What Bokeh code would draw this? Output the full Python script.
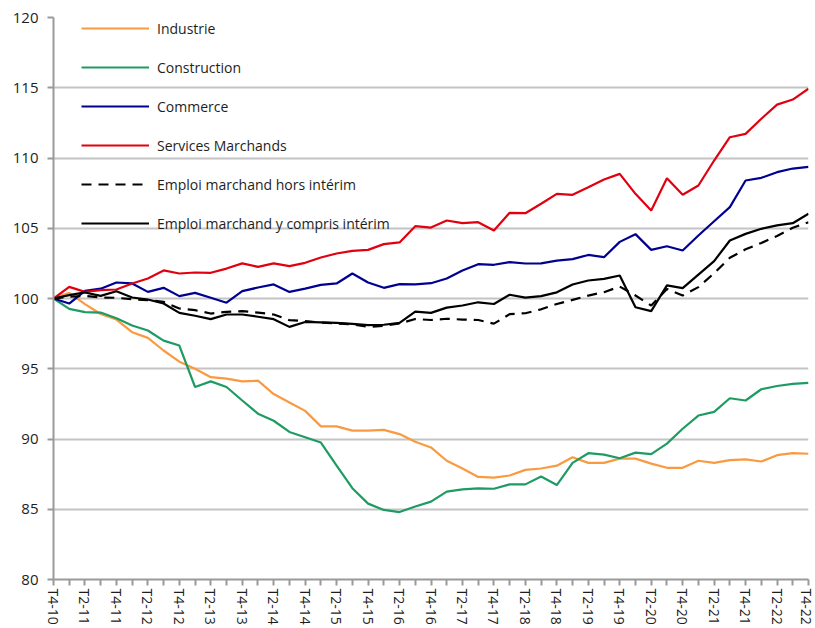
from bokeh.plotting import figure
from bokeh.models import FixedTicker, Legend, LegendItem
from bokeh.embed import file_html
from bokeh.resources import INLINE

# Quarters T4-10 .. T4-22
quarters = []
for i in range(49):
    q = (i + 3) % 4 + 1
    yr = 10 + (i + 3) // 4
    quarters.append(f"T{q}-{yr}")
tick_labels = [lab if k % 2 == 0 else "" for k, lab in enumerate(quarters)]

industrie = [100, 100.4, 99.6, 98.9, 98.5, 97.6, 97.2, 96.3, 95.5, 95.0,
             94.4, 94.3, 94.1, 94.15, 93.2, 92.6, 92.0, 90.9, 90.9, 90.6,
             90.6, 90.65, 90.35, 89.8, 89.4, 88.45, 87.9, 87.3, 87.25, 87.4,
             87.8, 87.9, 88.1, 88.7, 88.3, 88.3, 88.6, 88.6, 88.25, 87.95,
             87.95, 88.45, 88.3, 88.5, 88.55, 88.4, 88.85, 89.0, 88.95]
construction = [100, 99.26, 99.03, 99.0, 98.6, 98.08, 97.72, 97.0, 96.65, 93.7,
                94.1, 93.7, 92.74, 91.8, 91.3, 90.5, 90.13, 89.75, 88.1, 86.5,
                85.4, 84.95, 84.8, 85.2, 85.54, 86.25, 86.41, 86.49, 86.46, 86.77,
                86.77, 87.33, 86.72, 88.3, 88.99, 88.89, 88.63, 89.03, 88.92, 89.67,
                90.73, 91.67, 91.93, 92.9, 92.74, 93.54, 93.77, 93.92, 93.99]
commerce = [100, 99.64, 100.55, 100.7, 101.14, 101.07, 100.47, 100.76, 100.17, 100.4,
            100.05, 99.7, 100.52, 100.78, 101.0, 100.47, 100.7, 100.97, 101.07, 101.78,
            101.14, 100.76, 101.02, 101.0, 101.09, 101.42, 102.0, 102.44, 102.4, 102.59,
            102.49, 102.5, 102.7, 102.8, 103.1, 102.94, 104.03, 104.58, 103.46, 103.72,
            103.42, 104.48, 105.5, 106.5, 108.4, 108.59, 108.99, 109.25, 109.37]
services = [100, 100.83, 100.47, 100.6, 100.64, 101.07, 101.42, 102.0, 101.78, 101.85,
            101.83, 102.13, 102.5, 102.25, 102.5, 102.3, 102.54, 102.92, 103.2, 103.39,
            103.46, 103.87, 103.99, 105.15, 105.05, 105.55, 105.36, 105.43, 104.84, 106.1,
            106.07, 106.74, 107.45, 107.38, 107.92, 108.47, 108.87, 107.45, 106.26, 108.56,
            107.38, 108.04, 109.82, 111.48, 111.72, 112.79, 113.8, 114.16, 114.93]
emploi_hors = [100, 100.12, 100.19, 100.07, 100.05, 99.95, 99.88, 99.76, 99.29, 99.17,
               98.93, 99.05, 99.1, 99.0, 98.86, 98.46, 98.39, 98.29, 98.22, 98.17,
               97.98, 98.05, 98.22, 98.54, 98.47, 98.56, 98.5, 98.47, 98.21, 98.89,
               98.95, 99.23, 99.61, 99.9, 100.21, 100.45, 100.85, 100.21, 99.5, 100.68,
               100.21, 100.81, 101.8, 102.9, 103.5, 103.95, 104.45, 105.03, 105.43]
emploi_total = [100, 100.24, 100.43, 100.19, 100.52, 100.07, 99.93, 99.64, 98.98, 98.77,
                98.53, 98.86, 98.86, 98.7, 98.53, 97.98, 98.33, 98.3, 98.26, 98.2,
                98.1, 98.13, 98.26, 99.06, 98.98, 99.35, 99.5, 99.73, 99.61, 100.27,
                100.06, 100.17, 100.44, 101.0, 101.28, 101.4, 101.64, 99.38, 99.1, 100.93,
                100.74, 101.7, 102.66, 104.13, 104.6, 104.96, 105.2, 105.36, 106.03]

x = list(range(len(quarters)))

p = figure(width=815, height=628, x_range=(0, 48), y_range=(80, 120),
           output_backend="svg", toolbar_location=None,
           min_border_left=53, min_border_right=7, min_border_top=17,
           min_border_bottom=49)
p.outline_line_color = None
p.background_fill_color = "white"

FONT = "Open Sans"
GRID = "#c4c4c4"
AX = "#9a9a9a"

p.xgrid.grid_line_color = None
p.ygrid.grid_line_color = GRID
p.ygrid.grid_line_width = 2

p.yaxis.ticker = FixedTicker(ticks=[80, 85, 90, 95, 100, 105, 110, 115, 120])
p.yaxis.axis_line_color = AX
p.yaxis.axis_line_width = 2
p.yaxis.major_tick_line_color = AX
p.yaxis.major_tick_line_width = 2
p.yaxis.major_tick_out = 6
p.yaxis.major_tick_in = 0
p.yaxis.minor_tick_line_color = None
p.yaxis.major_label_standoff = 9
p.yaxis.major_label_text_font = FONT
p.yaxis.major_label_text_font_size = "15px"
p.yaxis.major_label_text_color = "#1e1e1e"

p.xaxis.ticker = FixedTicker(ticks=x)
p.xaxis.major_label_overrides = {i: tick_labels[i] for i in x}
p.xaxis.major_label_orientation = "vertical"
p.xaxis.axis_line_color = AX
p.xaxis.axis_line_width = 2
p.xaxis.major_tick_line_color = AX
p.xaxis.major_tick_line_width = 2
p.xaxis.major_tick_out = 6
p.xaxis.major_tick_in = 0
p.xaxis.minor_tick_line_color = None
p.xaxis.major_label_standoff = 3
p.xaxis.major_label_text_font = FONT
p.xaxis.major_label_text_font_size = "14px"
p.xaxis.major_label_text_color = "#1e1e1e"

series = [
    ("Industrie", industrie, "#FA9A40", "solid"),
    ("Construction", construction, "#1E9B63", "solid"),
    ("Commerce", commerce, "#000091", "solid"),
    ("Services Marchands", services, "#E1000F", "solid"),
    ("Emploi marchand hors intérim", emploi_hors, "#000000", "10 7"),
    ("Emploi marchand y compris intérim", emploi_total, "#000000", "solid"),
]

items = []
for name, ys, col, dash in series:
    r = p.line(x, ys, line_color=col, line_width=2.2, line_dash=dash)
    items.append(LegendItem(label=name, renderers=[r]))

legend = Legend(items=items, location=(28, 346), orientation="vertical",
                glyph_width=68, glyph_height=20, label_height=20,
                spacing=19, label_standoff=8, padding=0, margin=0,
                border_line_color=None, background_fill_alpha=0,
                label_text_font=FONT, label_text_font_size="14px",
                label_text_color="#1e1e1e")
p.add_layout(legend, "center")

open("out.html", "w").write(file_html(p, INLINE))
